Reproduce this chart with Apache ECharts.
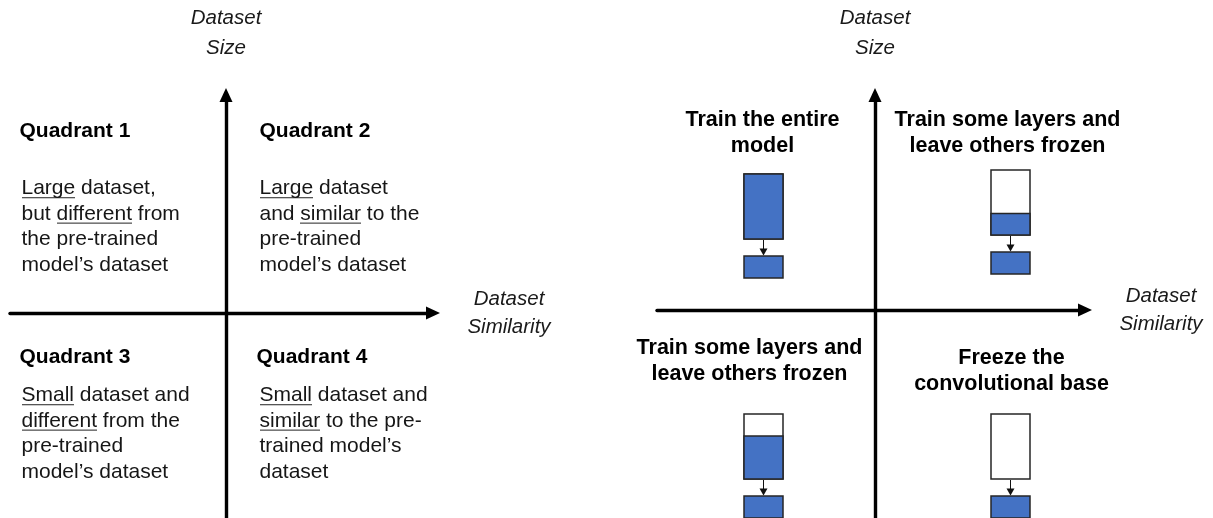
<!DOCTYPE html>
<html><head><meta charset="utf-8">
<script src="https://cdn.jsdelivr.net/npm/echarts@6/dist/echarts.min.js"></script>
<style>html,body{margin:0;padding:0;background:#fff}#c{width:1213px;height:518px}</style>
</head><body><div id="c"></div>
<script>
// ---------- content ----------
const sizeAxisName = 'Dataset\nSize';
const similarityAxisName = 'Dataset\nSimilarity';
const quadrantTitles = ['Quadrant 1', 'Quadrant 2', 'Quadrant 3', 'Quadrant 4'];
const quadrantBodies = [
  ['{u|Large} dataset,', 'but {u|different} from', 'the pre-trained', 'model\u2019s dataset'],
  ['{u|Large} dataset', 'and {u|similar} to the', 'pre-trained', 'model\u2019s dataset'],
  ['{u|Small} dataset and', '{u|different} from the', 'pre-trained', 'model\u2019s dataset'],
  ['{u|Small} dataset and', '{u|similar} to the pre-', 'trained model\u2019s', 'dataset']
];
const strategyTitles = [
  ['Train the entire', 'model'],
  ['Train some layers and', 'leave others frozen'],
  ['Train some layers and', 'leave others frozen'],
  ['Freeze the', 'convolutional base']
];
// share of the base model that is trained (blue part of the tall box)
const trainedShare = [1, 0.33, 0.66, 0];

// ---------- layout (pixels) ----------
const LEFT = { origin: [226, 313], left: 10, right: 433, top: 95, bottom: 518 };
const RIGHT = { origin: [875, 310], left: 657, right: 1085, top: 95, bottom: 518 };
// offsets from the panel origin, y pointing up
const titleAnchors = [[-206, 193], [34, 193], [-206, -33], [31, -33]];
const bodyAnchors = [[-204, 137], [34, 137], [-204, -70], [34, -70]];
const strategyAnchors = [[-112, 202], [133, 202], [-125, -26], [137, -36]];
const boxAnchors = [[-111.5, 136], [135.5, 140], [-111.5, -104], [135.5, -104]];
const BOX = { w: 39, h: 65, gap: 17, sh: 22 };
const BLUE = '#4472C4';
const FONT = '"Liberation Sans", Arial, Helvetica, sans-serif';
const TEXT = '#161616';

// underline image for rich text
const LH = 25.5;
const ul = document.createElement('canvas');
ul.width = 4; ul.height = 51;
const uctx = ul.getContext('2d');
uctx.fillStyle = '#555';
uctx.fillRect(0, 43, 4, 2.6);

function panelGrid(P) {
  return { left: P.left, top: P.top, width: P.right - P.left, height: P.bottom - P.top };
}
function panelX(P, idx, name) {
  return {
    type: 'value', gridIndex: idx, min: P.left - P.origin[0], max: P.right - P.origin[0],
    axisLine: { show: true, onZero: true, symbol: ['none', 'triangle'], symbolSize: [13, 14],
      lineStyle: { color: '#000', width: 3.4 } },
    axisTick: { show: false }, axisLabel: { show: false }, splitLine: { show: false },
    name: name, nameLocation: 'end', nameGap: 76,
    nameTextStyle: { fontFamily: FONT, fontStyle: 'italic', fontSize: 20.5, lineHeight: 28,
      color: '#1a1a1a', align: 'center', verticalAlign: 'middle' }
  };
}
function panelY(P, idx, name) {
  return {
    type: 'value', gridIndex: idx, min: P.origin[1] - P.bottom, max: P.origin[1] - P.top,
    axisLine: { show: true, onZero: true, symbol: ['none', 'triangle'], symbolSize: [13, 14],
      lineStyle: { color: '#000', width: 3.4 } },
    axisTick: { show: false }, axisLabel: { show: false }, splitLine: { show: false },
    name: name, nameLocation: 'end', nameGap: 32,
    nameTextStyle: { fontFamily: FONT, fontStyle: 'italic', fontSize: 20.5, lineHeight: 30,
      color: '#1a1a1a', align: 'center', verticalAlign: 'bottom' }
  };
}
function textSeries(idx, items, label) {
  return {
    type: 'scatter', xAxisIndex: idx, yAxisIndex: idx, symbolSize: 1, silent: true,
    itemStyle: { color: 'rgba(0,0,0,0)' },
    data: items,
    label: Object.assign({ show: true, position: [0, 0], formatter: p => p.name,
      fontFamily: FONT, color: TEXT, opacity: 1, textBorderWidth: 0 }, label)
  };
}

const chart = echarts.init(document.getElementById('c'), null, { renderer: 'canvas' });
chart.setOption({
  animation: false,
  backgroundColor: '#fff',
  grid: [panelGrid(LEFT), panelGrid(RIGHT)],
  xAxis: [panelX(LEFT, 0, similarityAxisName), panelX(RIGHT, 1, similarityAxisName)],
  yAxis: [panelY(LEFT, 0, sizeAxisName), panelY(RIGHT, 1, sizeAxisName)],
  series: [
    textSeries(0, quadrantTitles.map((t, i) => ({ value: titleAnchors[i], name: t })),
      { align: 'left', verticalAlign: 'top', fontWeight: 'bold', fontSize: 21, lineHeight: 24, color: '#000' }),
    textSeries(0, quadrantBodies.map((b, i) => ({ value: bodyAnchors[i], name: b.join('\n') })),
      { align: 'left', verticalAlign: 'top', fontSize: 21, lineHeight: LH,
        rich: { u: { fontFamily: FONT, fontSize: 21, color: TEXT, lineHeight: LH, height: LH,
          backgroundColor: { image: ul } } } }),
    textSeries(1, strategyTitles.map((s, i) => ({ value: strategyAnchors[i], name: s.join('\n') })),
      { align: 'center', verticalAlign: 'top', fontWeight: 'bold', fontSize: 21.5, lineHeight: 26, color: '#000' }),
    {
      type: 'custom', xAxisIndex: 1, yAxisIndex: 1, silent: true, clip: false,
      data: trainedShare.map((s, i) => [i, s]),
      renderItem: function (params, api) {
        const i = api.value(0), share = api.value(1);
        const a = boxAnchors[i];
        const p = api.coord(a);
        const sz = api.size([BOX.w, BOX.h]);
        const w = sz[0], h = sz[1];
        const gap = api.size([0, BOX.gap])[1], sh = api.size([0, BOX.sh])[1];
        const x = p[0] - w / 2, y = p[1];
        const stroke = { stroke: '#262626', lineWidth: 1.5 };
        const ch = [
          { type: 'rect', shape: { x: x, y: y, width: w, height: h }, style: Object.assign({ fill: '#fff' }, stroke) }
        ];
        if (share > 0) {
          const th = h * share;
          ch.push({ type: 'rect', shape: { x: x, y: y + h - th, width: w, height: th },
            style: Object.assign({ fill: BLUE }, stroke) });
        }
        const y0 = y + h + 1, y1 = y + h + gap;
        ch.push({ type: 'line', shape: { x1: p[0], y1: y0, x2: p[0], y2: y1 - 5 }, style: { stroke: '#111', lineWidth: 1 } });
        ch.push({ type: 'polygon', shape: { points: [[p[0] - 4, y1 - 7.5], [p[0] + 4, y1 - 7.5], [p[0], y1 - 0.5]] }, style: { fill: '#111' } });
        ch.push({ type: 'rect', shape: { x: x, y: y1, width: w, height: sh }, style: Object.assign({ fill: BLUE }, stroke) });
        return { type: 'group', children: ch };
      }
    }
  ]
});
</script></body></html>
